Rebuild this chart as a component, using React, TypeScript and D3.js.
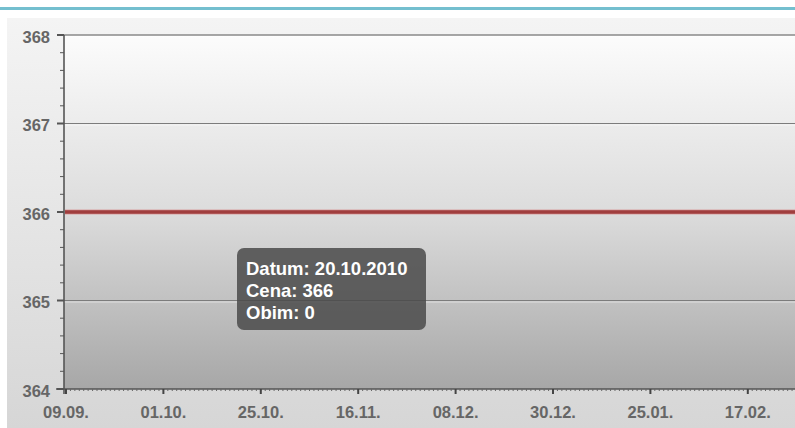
import React, { useEffect, useRef } from "react";
import * as d3 from "d3";

// trading-day axis labels (evenly spaced on the chart)
const dateLabels = ["09.09.", "01.10.", "25.10.", "16.11.", "08.12.", "30.12.", "25.01.", "17.02.", "11.03."];
// closing price at each labelled date
const prices = [366, 366, 366, 366, 366, 366, 366, 366, 366];
const yTicks = [364, 365, 366, 367, 368];
const tooltipLines = ["Datum: 20.10.2010", "Cena: 366", "Obim: 0"];

const App = () => {
  const ref = useRef<SVGSVGElement>(null);

  useEffect(() => {
    const width = 795;
    const height = 428;
    const svg = d3.select(ref.current);
    svg.selectAll("*").remove();

    const left = 64;
    const top = 35;
    const bottom = 389;
    const step = 97.4;
    const font = "Liberation Sans, Arial, sans-serif";

    const x = d3.scalePoint<string>()
      .domain(dateLabels)
      .range([66, 66 + step * (dateLabels.length - 1)]);
    const y = d3.scaleLinear().domain([364, 368]).range([bottom, top]);

    const defs = svg.append("defs");
    const bgGrad = defs.append("linearGradient").attr("id", "bg").attr("x1", 0).attr("y1", 0).attr("x2", 0).attr("y2", 1);
    bgGrad.append("stop").attr("offset", "0%").attr("stop-color", "#f4f4f4");
    bgGrad.append("stop").attr("offset", "100%").attr("stop-color", "#d6d6d6");
    const plotGrad = defs.append("linearGradient").attr("id", "plot").attr("x1", 0).attr("y1", 0).attr("x2", 0).attr("y2", 1);
    plotGrad.append("stop").attr("offset", "0%").attr("stop-color", "#fcfcfc");
    plotGrad.append("stop").attr("offset", "50%").attr("stop-color", "#dcdcdc");
    plotGrad.append("stop").attr("offset", "100%").attr("stop-color", "#a7a7a7");
    const blur = defs.append("filter").attr("id", "shadow").attr("x", "-10%").attr("y", "-200%").attr("width", "120%").attr("height", "500%");
    blur.append("feGaussianBlur").attr("stdDeviation", 1.5);
    defs.append("clipPath").attr("id", "clip").append("rect")
      .attr("x", 0).attr("y", 0).attr("width", width).attr("height", height);

    // top accent line and backgrounds
    svg.append("rect").attr("width", width).attr("height", height).attr("fill", "#fff");
    svg.append("rect").attr("x", 0).attr("y", 7).attr("width", width).attr("height", 3).attr("fill", "#74bfcf");
    svg.append("rect").attr("x", 7).attr("y", 18).attr("width", width - 7).attr("height", height - 18).attr("fill", "url(#bg)");
    svg.append("rect").attr("x", left).attr("y", top).attr("width", width - left).attr("height", bottom - top).attr("fill", "url(#plot)");

    // horizontal grid
    yTicks.filter(t => t !== 364 && t !== 366).forEach(t => {
      svg.append("line").attr("x1", left).attr("x2", width).attr("y1", y(t) + 1.5).attr("y2", y(t) + 1.5)
        .attr("stroke", "#fff").attr("stroke-opacity", 0.5);
      svg.append("line").attr("x1", left).attr("x2", width).attr("y1", y(t)).attr("y2", y(t))
        .attr("stroke", t === 368 ? "#8a8a8a" : "#7c7c7c").attr("stroke-width", t === 368 ? 1.6 : 1);
    });

    // y axis
    const yAxis = svg.append("g");
    yAxis.append("line").attr("x1", left).attr("x2", left).attr("y1", top).attr("y2", bottom + 5)
      .attr("stroke", "#555").attr("stroke-width", 1.6);
    d3.range(364, 368.001, 0.2).forEach(v => {
      const major = Math.abs(v - Math.round(v)) < 1e-6;
      yAxis.append("line").attr("x1", major ? 57 : 60).attr("x2", left).attr("y1", y(v)).attr("y2", y(v))
        .attr("stroke", "#555").attr("stroke-width", major ? 2 : 1);
    });
    yTicks.forEach(t => {
      yAxis.append("text").attr("x", 50).attr("y", y(t) + 2).attr("dy", "0.36em")
        .attr("text-anchor", "end").attr("font-family", font)
        .attr("font-weight", "bold").attr("font-size", 16.5).attr("fill", "#666").text(t);
    });

    // x axis
    const xAxis = svg.append("g");
    xAxis.append("line").attr("x1", left - 8).attr("x2", width).attr("y1", bottom).attr("y2", bottom)
      .attr("stroke", "#555").attr("stroke-width", 1.6);
    const minor = step / 22;
    for (let px = 66; px < width; px += minor) {
      xAxis.append("line").attr("x1", px).attr("x2", px).attr("y1", bottom).attr("y2", bottom + 2)
        .attr("stroke", "#666").attr("stroke-width", 1);
    }
    dateLabels.filter(d => x(d)! < width).forEach(d => {
      const px = x(d)!;
      xAxis.append("line").attr("x1", px).attr("x2", px).attr("y1", bottom).attr("y2", bottom + 5)
        .attr("stroke", "#444").attr("stroke-width", 2);
      xAxis.append("text").attr("x", px).attr("y", 412).attr("dy", "0.36em").attr("text-anchor", "middle")
        .attr("font-family", font).attr("font-weight", "bold")
        .attr("font-size", 16.5).attr("fill", "#666").text(d);
    });

    // price line
    const data = dateLabels.map((d, i) => ({ x: x(d)!, v: prices[i] }));
    data[0].x = left + 1;
    const line = d3.line<{ x: number; v: number }>().x(d => d.x).y(d => y(d.v));
    const lines = svg.append("g").attr("clip-path", "url(#clip)");
    lines.append("path").datum(data).attr("fill", "none").attr("stroke", "#000").attr("stroke-opacity", 0.25)
      .attr("stroke-width", 4).attr("transform", "translate(0,3)").attr("filter", "url(#shadow)").attr("d", line);
    lines.append("path").datum(data).attr("fill", "none").attr("stroke", "#d8a0a0")
      .attr("stroke-width", 5).attr("d", line);
    lines.append("path").datum(data).attr("fill", "none").attr("stroke", "#a03e3e")
      .attr("stroke-width", 3.5).attr("d", line);

    // tooltip
    const tip = svg.append("g").attr("transform", "translate(237,248)");
    tip.append("rect").attr("width", 189).attr("height", 82).attr("rx", 7)
      .attr("fill", "#4a4a4a").attr("fill-opacity", 0.85);
    tooltipLines.forEach((t, i) => {
      tip.append("text").attr("x", 9).attr("y", 20 + i * 22).attr("dy", "0.36em")
        .attr("font-family", font).attr("font-weight", "bold")
        .attr("font-size", 18.5).attr("fill", "#fff").text(t);
    });
  }, []);

  return (
    <svg ref={ref} width={795} height={428}
      style={{ position: "absolute", left: 0, top: 0, display: "block" }} />
  );
};

export default App;
